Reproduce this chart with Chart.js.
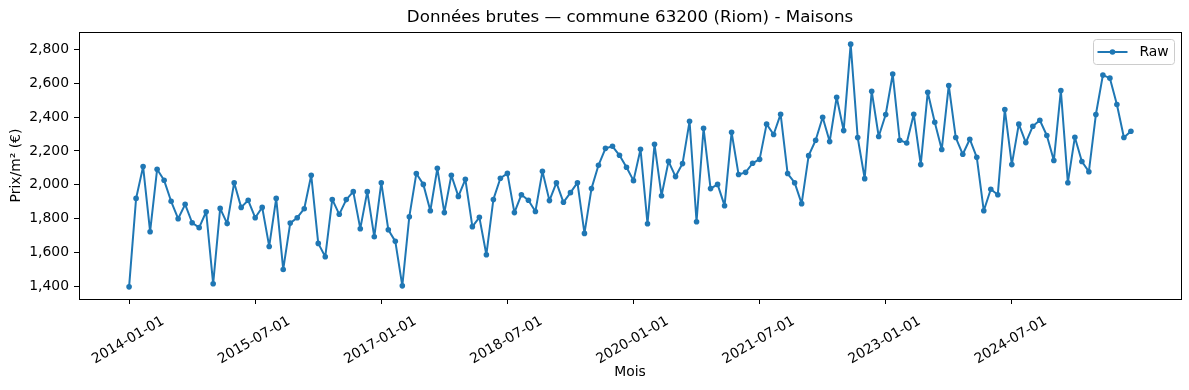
<!DOCTYPE html>
<html>
<head>
<meta charset="utf-8">
<script src="https://cdn.jsdelivr.net/npm/chart.js@4.4.0/dist/chart.umd.min.js"></script>
<style>
  html, body { margin: 0; padding: 0; background: #fff; }
  #wrap { width: 1189px; height: 390px; }
</style>
</head>
<body>
<div id="wrap"><canvas id="chart" width="1189" height="390"></canvas></div>
<script>
// monthly categories, 2014-01 .. 2025-12
var months = [];
for (var i = 0; i < 144; i++) {
    var yr = 2014 + Math.floor(i / 12), mo = i % 12 + 1;
    months.push(yr + '-' + (mo < 10 ? '0' : '') + mo + '-01');
}

// Prix/m² (€)
var prices = [
    1396, 1919, 2107, 1722, 2091, 2026, 1902, 1799, 1884, 1775, 1746, 1840,
    1414, 1860, 1770, 2012, 1866, 1908, 1805, 1866, 1635, 1919, 1499, 1773,
    1805, 1858, 2056, 1653, 1574, 1913, 1825, 1912, 1959, 1740, 1959, 1692,
    2012, 1734, 1665, 1402, 1811, 2066, 2002, 1846, 2097, 1835, 2056, 1931,
    2032, 1752, 1807, 1586, 1913, 2038, 2067, 1835, 1941, 1908, 1842, 2079,
    1906, 2012, 1896, 1953, 2012, 1712, 1977, 2115, 2215, 2227, 2174, 2103,
    2024, 2210, 1769, 2239, 1935, 2138, 2048, 2125, 2375, 1781, 2334, 1977,
    2002, 1876, 2310, 2060, 2073, 2127, 2150, 2358, 2297, 2417, 2066, 2012,
    1888, 2172, 2263, 2399, 2255, 2517, 2320, 2831, 2279, 2036, 2553, 2285,
    2415, 2654, 2263, 2247, 2417, 2119, 2547, 2369, 2208, 2587, 2279, 2180,
    2269, 2162, 1846, 1973, 1941, 2445, 2119, 2358, 2249, 2346, 2381, 2291,
    2143, 2557, 2012, 2281, 2137, 2077, 2415, 2648, 2630, 2474, 2279, 2316
];

var xTickLabels = ['2014-01-01', '2015-07-01', '2017-01-01', '2018-07-01',
                   '2020-01-01', '2021-07-01', '2023-01-01', '2024-07-01'];
var yTickValues = [1400, 1600, 1800, 2000, 2200, 2400, 2600, 2800];

var BLUE = '#1f77b4';
var FONT = 'DejaVu Sans';

Chart.defaults.font.family = FONT;
Chart.defaults.color = '#000';

// matplotlib-like 5% margins
var n = prices.length;
var yMinData = Math.min.apply(null, prices), yMaxData = Math.max.apply(null, prices);
var yPad = (yMaxData - yMinData) * 0.05;
var xPad = (n - 1) * 0.05;

// axes frame + legend box in the upper right corner
var framePlugin = {
    id: 'frame',
    afterDraw: function(chart) {
        var a = chart.chartArea, ctx = chart.ctx;
        ctx.save();
        ctx.strokeStyle = '#000';
        ctx.lineWidth = 1;
        ctx.strokeRect(Math.round(a.left) + 0.5, Math.round(a.top) + 0.5,
                       Math.round(a.right - a.left), Math.round(a.bottom - a.top));

        // legend
        var ds = chart.data.datasets[0];
        var w = 81, h = 25;
        var bx = Math.round(a.right) - 7 - w + 0.5, by = Math.round(a.top) + 7 + 0.5;
        ctx.fillStyle = 'rgba(255,255,255,0.8)';
        ctx.strokeStyle = '#cccccc';
        ctx.beginPath();
        ctx.roundRect(bx, by, w, h, 3);
        ctx.fill(); ctx.stroke();

        var cy = by + h / 2;
        ctx.strokeStyle = BLUE; ctx.lineWidth = 2;
        ctx.beginPath(); ctx.moveTo(bx + 4, cy); ctx.lineTo(bx + 34, cy); ctx.stroke();
        ctx.fillStyle = BLUE;
        ctx.beginPath(); ctx.arc(bx + 19, cy, 2.8, 0, Math.PI * 2); ctx.fill();

        ctx.fillStyle = '#000';
        ctx.font = '13.9px "' + FONT + '"';
        ctx.textBaseline = 'middle';
        ctx.textAlign = 'left';
        ctx.fillText(ds.label, bx + 46, cy);
        ctx.restore();
    }
};

new Chart(document.getElementById('chart'), {
    type: 'line',
    data: {
        datasets: [{
            label: 'Raw',
            data: prices.map(function(v, i) { return { x: i, y: v }; }),
            borderColor: BLUE,
            backgroundColor: BLUE,
            borderWidth: 2,
            borderJoinStyle: 'round',
            borderCapStyle: 'round',
            pointRadius: 2.8,
            pointHoverRadius: 2.8,
            pointBorderWidth: 0,
            pointBackgroundColor: BLUE,
            tension: 0,
            fill: false
        }]
    },
    options: {
        responsive: false,
        animation: false,
        devicePixelRatio: 1,
        layout: { padding: { left: 0, right: 8, top: 0, bottom: 0 } },
        plugins: {
            title: {
                display: true,
                fullSize: false,
                text: 'Données brutes — commune 63200 (Riom) - Maisons',
                font: { size: 16.7, weight: 'normal' },
                color: '#000',
                padding: { top: 8, bottom: 4 }
            },
            legend: { display: false },
            tooltip: { enabled: false }
        },
        scales: {
            x: {
                type: 'linear',
                min: -xPad,
                max: n - 1 + xPad,
                afterBuildTicks: function(scale) {
                    scale.ticks = xTickLabels.map(function(l) { return { value: months.indexOf(l) }; });
                },
                afterFit: function(scale) { scale.height = 91; },
                ticks: {
                    autoSkip: false,
                    maxRotation: 30,
                    minRotation: 30,
                    padding: 9,
                    labelOffset: 34,
                    font: { size: 13.9 },
                    callback: function(v) { return months[v]; }
                },
                grid: { display: true, drawOnChartArea: false, drawTicks: true, tickLength: 5, color: '#000' },
                border: { display: false },
                title: { display: true, text: 'Mois', font: { size: 13.9 }, padding: { top: 4, bottom: 9 } }
            },
            y: {
                min: yMinData - yPad,
                max: yMaxData + yPad,
                afterBuildTicks: function(scale) {
                    scale.ticks = yTickValues.map(function(v) { return { value: v }; });
                },
                afterFit: function(scale) { scale.width = 79; },
                ticks: {
                    padding: 5,
                    font: { size: 13.9 },
                    callback: function(v) { return v.toLocaleString('en-US'); }
                },
                grid: { display: true, drawOnChartArea: false, drawTicks: true, tickLength: 5, color: '#000' },
                border: { display: false },
                title: { display: true, text: 'Prix/m² (€)', font: { size: 13.9 }, padding: { top: 8, bottom: 4 } }
            }
        }
    },
    plugins: [framePlugin]
});
</script>
</body>
</html>
